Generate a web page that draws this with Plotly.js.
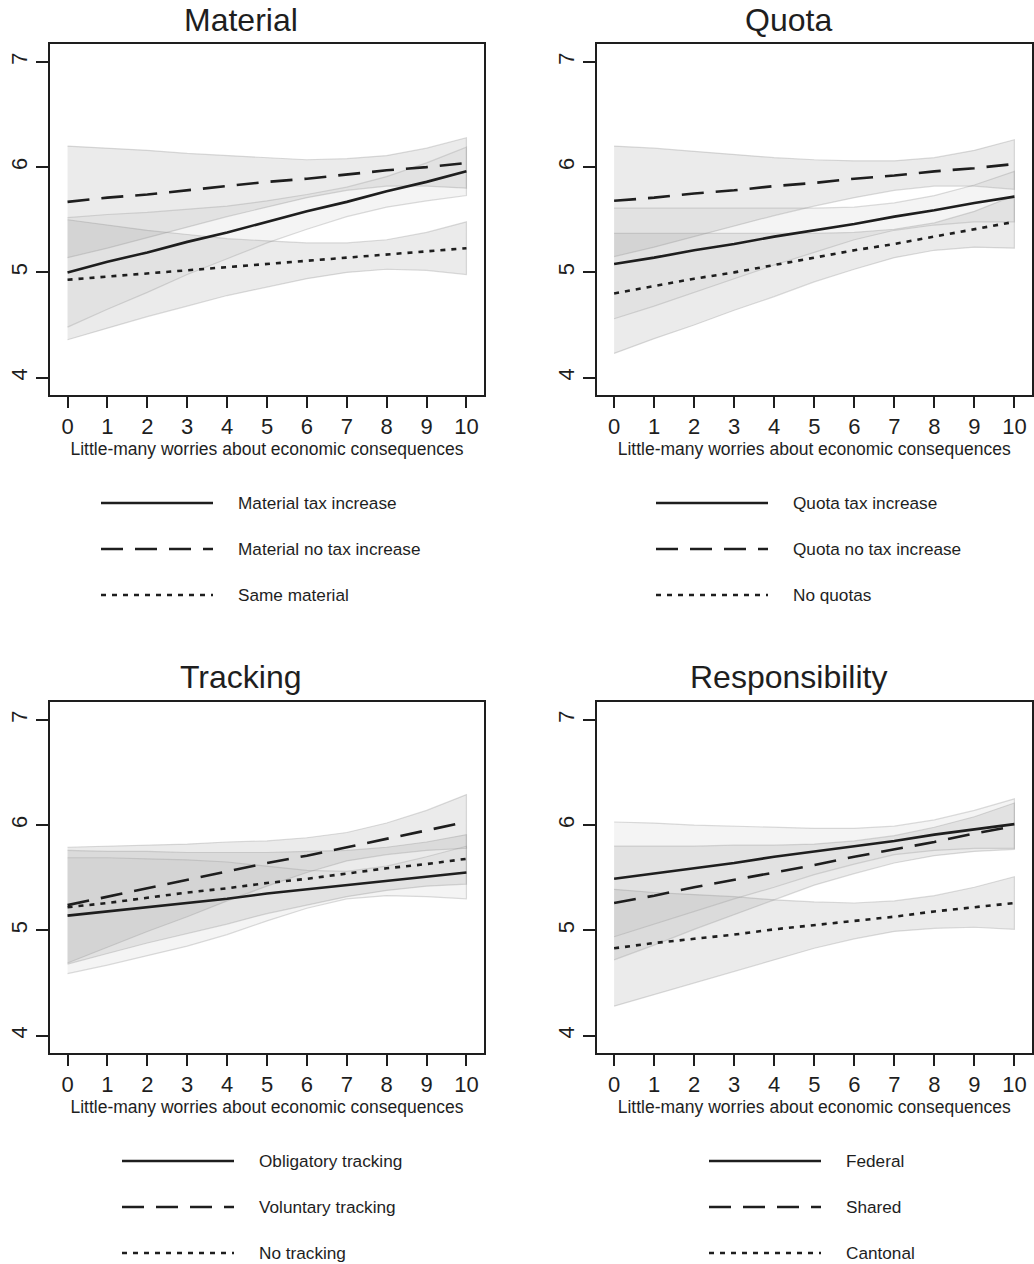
<!DOCTYPE html>
<html><head><meta charset="utf-8">
<script src="https://cdn.plot.ly/plotly-3.0.1.min.js"></script>
<style>html,body{margin:0;padding:0;background:#fff;}#chart{width:1034px;height:1264px;}</style>
</head><body><div id="chart"></div>
<script>
// ---------- data ----------
const xWorry = [0,1,2,3,4,5,6,7,8,9,10];
const xTickLabels = ["0","1","2","3","4","5","6","7","8","9","10"];
const yTickVals = [4,5,6,7];
const yTickLabels = ["4","5","6","7"];
const panelTitles = ["Material","Quota","Tracking","Responsibility"];
const xAxisTitle = "Little-many worries about economic consequences";

// Material
const materialNames = ["Material tax increase","Material no tax increase","Same material"];
const matTaxFit   = [5.00,5.10,5.19,5.29,5.38,5.48,5.58,5.67,5.77,5.86,5.96];
const matTaxLo    = [4.48,4.65,4.81,4.98,5.13,5.28,5.41,5.53,5.62,5.68,5.73];
const matTaxHi    = [5.52,5.55,5.57,5.60,5.63,5.68,5.74,5.81,5.91,6.04,6.19];
const matNoTaxFit = [5.67,5.71,5.74,5.78,5.82,5.86,5.89,5.93,5.97,6.00,6.04];
const matNoTaxLo  = [5.14,5.23,5.33,5.43,5.53,5.62,5.71,5.78,5.82,5.82,5.80];
const matNoTaxHi  = [6.20,6.18,6.16,6.13,6.11,6.09,6.07,6.08,6.11,6.18,6.28];
const sameMatFit  = [4.93,4.96,4.99,5.02,5.05,5.08,5.11,5.14,5.17,5.20,5.23];
const sameMatLo   = [4.36,4.47,4.58,4.68,4.78,4.86,4.94,5.00,5.03,5.02,4.98];
const sameMatHi   = [5.50,5.45,5.40,5.36,5.32,5.30,5.28,5.28,5.31,5.38,5.48];

// Quota
const quotaNames = ["Quota tax increase","Quota no tax increase","No quotas"];
const quotaTaxFit   = [5.08,5.14,5.21,5.27,5.34,5.40,5.46,5.53,5.59,5.66,5.72];
const quotaTaxLo    = [4.56,4.68,4.81,4.94,5.07,5.19,5.31,5.40,5.45,5.48,5.48];
const quotaTaxHi    = [5.61,5.61,5.61,5.61,5.61,5.61,5.62,5.66,5.73,5.83,5.96];
const quotaNoTaxFit = [5.68,5.71,5.75,5.78,5.82,5.85,5.89,5.92,5.96,5.99,6.03];
const quotaNoTaxLo  = [5.15,5.24,5.34,5.44,5.54,5.63,5.71,5.78,5.82,5.82,5.79];
const quotaNoTaxHi  = [6.20,6.18,6.15,6.12,6.09,6.07,6.06,6.06,6.09,6.16,6.26];
const noQuotaFit    = [4.80,4.87,4.94,5.00,5.07,5.14,5.21,5.27,5.34,5.41,5.48];
const noQuotaLo     = [4.23,4.37,4.50,4.64,4.77,4.91,5.03,5.14,5.21,5.24,5.23];
const noQuotaHi     = [5.37,5.37,5.37,5.37,5.37,5.37,5.38,5.41,5.47,5.58,5.73];

// Tracking
const trackingNames = ["Obligatory tracking","Voluntary tracking","No tracking"];
const oblFit     = [5.14,5.18,5.22,5.26,5.30,5.35,5.39,5.43,5.47,5.51,5.55];
const oblLo      = [4.59,4.67,4.76,4.85,4.96,5.09,5.21,5.30,5.33,5.32,5.30];
const oblHi      = [5.69,5.69,5.68,5.67,5.65,5.61,5.57,5.56,5.61,5.70,5.80];
const volFit     = [5.24,5.32,5.40,5.48,5.56,5.64,5.71,5.79,5.87,5.95,6.03];
const volLo      = [4.69,4.84,4.99,5.13,5.28,5.42,5.55,5.66,5.72,5.76,5.78];
const volHi      = [5.79,5.80,5.81,5.82,5.84,5.85,5.88,5.93,6.02,6.14,6.29];
const noTrackFit = [5.22,5.26,5.31,5.36,5.40,5.45,5.49,5.54,5.59,5.63,5.68];
const noTrackLo  = [4.68,4.78,4.88,4.97,5.06,5.16,5.24,5.32,5.38,5.42,5.44];
const noTrackHi  = [5.76,5.75,5.75,5.74,5.74,5.74,5.75,5.76,5.79,5.84,5.91];

// Responsibility
const responsibilityNames = ["Federal","Shared","Cantonal"];
const fedFit    = [5.49,5.54,5.59,5.64,5.70,5.75,5.80,5.85,5.91,5.96,6.01];
const fedLo     = [4.94,5.06,5.18,5.30,5.41,5.53,5.63,5.72,5.76,5.78,5.78];
const fedHi     = [6.03,6.02,6.00,5.99,5.98,5.97,5.97,5.99,6.05,6.14,6.25];
const sharedFit = [5.26,5.33,5.41,5.48,5.55,5.62,5.70,5.77,5.84,5.92,5.99];
const sharedLo  = [4.72,4.86,5.01,5.15,5.29,5.43,5.54,5.64,5.71,5.75,5.77];
const sharedHi  = [5.80,5.80,5.80,5.81,5.81,5.82,5.85,5.90,5.98,6.08,6.21];
const cantFit   = [4.83,4.88,4.92,4.96,5.01,5.05,5.09,5.13,5.18,5.22,5.26];
const cantLo    = [4.28,4.39,4.50,4.61,4.72,4.83,4.92,4.99,5.02,5.03,5.01];
const cantHi    = [5.39,5.36,5.34,5.32,5.29,5.27,5.26,5.28,5.33,5.41,5.51];

// ---------- build ----------
const panels = [
  {names: materialNames, fits:[matTaxFit,matNoTaxFit,sameMatFit], los:[matTaxLo,matNoTaxLo,sameMatLo], his:[matTaxHi,matNoTaxHi,sameMatHi]},
  {names: quotaNames, fits:[quotaTaxFit,quotaNoTaxFit,noQuotaFit], los:[quotaTaxLo,quotaNoTaxLo,noQuotaLo], his:[quotaTaxHi,quotaNoTaxHi,noQuotaHi]},
  {names: trackingNames, fits:[oblFit,volFit,noTrackFit], los:[oblLo,volLo,noTrackLo], his:[oblHi,volHi,noTrackHi]},
  {names: responsibilityNames, fits:[fedFit,sharedFit,cantFit], los:[fedLo,sharedLo,cantLo], his:[fedHi,sharedHi,cantHi]}
];

const W = 1034, H = 1264;
const fx = p => p / W;
const fy = p => 1 - p / H;
const FONT = "Liberation Sans, Arial, Helvetica, sans-serif";
const INK = "#1e1e1e";
const dashes = ["solid", "22px,12px", "5px,6px"];
const bandFill = ["rgba(200,200,200,0.20)", "rgba(160,160,160,0.21)", "rgba(160,160,160,0.21)"];
const bandEdge = "rgba(140,140,140,0.30)";

// panel frames in pixels [left, right, top, bottom]
const frames = [[50,484,44,395],[596.5,1032,44,395],[50,484,702,1053],[596.5,1032,702,1053]];
const titleCenters = [[241,20],[788.5,20],[241,677],[788.5,677]];
const legendLine = [[101,213],[656,768],[122,234],[709,821]];
const legendRowsY = [[503,549,595],[503,549,595],[1161,1207,1253],[1161,1207,1253]];

const traces = [];
const layout = {
  width: W, height: H,
  margin: {l:0, r:0, t:0, b:0},
  paper_bgcolor: "#fff", plot_bgcolor: "#fff",
  showlegend: false,
  font: {family: FONT, color: INK},
  shapes: [], annotations: []
};

panels.forEach((p, i) => {
  const k = i + 1;
  const xa = "x" + (k === 1 ? "" : k), ya = "y" + (k === 1 ? "" : k);
  for (let s = 0; s < 3; s++) {
    traces.push({
      type: "scatter", mode: "lines", xaxis: xa, yaxis: ya,
      x: xWorry.concat(xWorry.slice().reverse()),
      y: p.his[s].concat(p.los[s].slice().reverse()),
      fill: "toself", fillcolor: bandFill[s],
      line: {color: bandEdge, width: 1.2},
      hoverinfo: "skip"
    });
  }
  for (let s = 0; s < 3; s++) {
    traces.push({
      type: "scatter", mode: "lines", xaxis: xa, yaxis: ya,
      x: xWorry, y: p.fits[s], name: p.names[s],
      line: {color: INK, width: 2.6, dash: dashes[s]}
    });
  }
  const f = frames[i];
  layout["xaxis" + (k === 1 ? "" : k)] = {
    domain: [fx(f[0]), fx(f[1])], anchor: ya,
    range: [-0.44, 10.44], tickvals: xWorry, ticktext: xTickLabels,
    tickfont: {size: 22, color: INK, family: FONT},
    showline: true, mirror: true, linecolor: INK, linewidth: 2,
    ticks: "outside", ticklen: 11, tickwidth: 2, tickcolor: INK,
    showgrid: false, zeroline: false, fixedrange: true,
    title: {text: xAxisTitle, font: {size: 17.5, color: INK, family: FONT}, standoff: 3}
  };
  layout["yaxis" + (k === 1 ? "" : k)] = {
    domain: [fy(f[3]), fy(f[2])], anchor: xa,
    range: [3.835, 7.17], tickvals: yTickVals, ticktext: yTickLabels,
    tickangle: -90, tickfont: {size: 22, color: INK, family: FONT},
    showline: true, mirror: true, linecolor: INK, linewidth: 2,
    ticks: "outside", ticklen: 12, tickwidth: 2, tickcolor: INK,
    showgrid: false, zeroline: false, fixedrange: true
  };
  layout.annotations.push({
    xref: "paper", yref: "paper", x: fx(titleCenters[i][0]), y: fy(titleCenters[i][1]),
    xanchor: "center", yanchor: "middle", showarrow: false,
    text: panelTitles[i], font: {size: 32, color: INK, family: FONT}
  });
  for (let s = 0; s < 3; s++) {
    const yy = fy(legendRowsY[i][s]);
    layout.shapes.push({
      type: "line", xref: "paper", yref: "paper",
      x0: fx(legendLine[i][0]), x1: fx(legendLine[i][1]), y0: yy, y1: yy,
      line: {color: INK, width: 2.6, dash: dashes[s]}
    });
    layout.annotations.push({
      xref: "paper", yref: "paper", x: fx(legendLine[i][1] + 23), y: yy,
      xanchor: "left", yanchor: "middle", showarrow: false,
      text: p.names[s], font: {size: 17.2, color: INK, family: FONT}
    });
  }
});

Plotly.newPlot("chart", traces, layout, {staticPlot: true, displayModeBar: false});
</script></body></html>
